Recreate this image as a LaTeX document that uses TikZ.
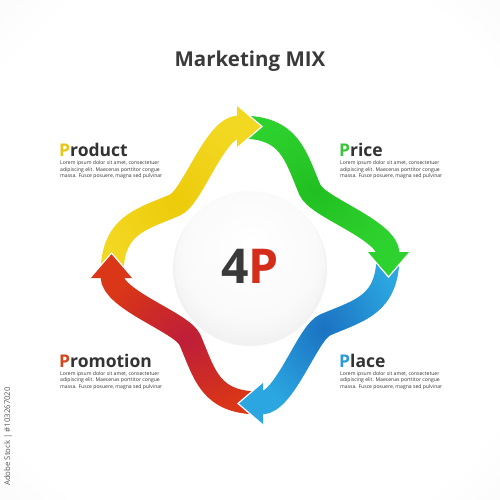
\documentclass[tikz,border=0pt]{standalone}
\usepackage{fontspec}
\setmainfont{Open Sans}
\usetikzlibrary{fadings}
\definecolor{cYel}{HTML}{F3D822}
\definecolor{cYelD}{HTML}{EDCB0A}
\definecolor{cGrn}{HTML}{2ED22E}
\definecolor{cGrnD}{HTML}{22C022}
\definecolor{cBlu}{HTML}{2BA6E0}
\definecolor{cBluD}{HTML}{1C72C2}
\definecolor{cRed}{HTML}{DA3618}
\definecolor{cRedD}{HTML}{BE1E3A}
\definecolor{tYel}{HTML}{E8C614}
\definecolor{tGrn}{HTML}{3CC43C}
\definecolor{tBlu}{HTML}{2B9BD8}
\definecolor{tRed}{HTML}{D4461C}
\definecolor{txt}{HTML}{333333}
\definecolor{four}{HTML}{3A3A3A}
\definecolor{pRed}{HTML}{D42E1A}
\pgfdeclareradialshading{bgshade}{\pgfpoint{0bp}{0bp}}{color(0bp)=(white); color(30bp)=(white); color(72bp)=(black!11)}
\pgfdeclareradialshading{sph}{\pgfpoint{0bp}{8bp}}{color(0bp)=(white); color(22bp)=(white!98!black); color(50bp)=(black!14)}
\tikzfading[name=midfade, inner color=transparent!0, outer color=transparent!100]
\tikzset{
  heading/.style={font=\fontsize{17.5}{20}\selectfont\bfseries, text=txt, inner sep=0, anchor=base west},
  lorem/.style={font=\fontsize{5.1}{6.6}\selectfont, text=txt, inner sep=0, align=left, anchor=north west},
  band/.style={line width=23},
  headedge/.style={white, line width=1.2, line join=miter}
}
\begin{document}
\begin{tikzpicture}[x=1pt,y=-1pt]
\shade[shading=bgshade] (0,0) rectangle (500,500);
\useasboundingbox (0,0) rectangle (500,500);
% title
\node[font=\fontsize{20.5}{24}\selectfont\bfseries, text=four, anchor=base, inner sep=0] (title) at (250,67) {Marketing MIX};
% central circle
\fill[black!5] (250,269) circle (77);
\shade[shading=sph] (250,266) circle (75);
\node[font=\fontsize{48}{50}\selectfont\bfseries, anchor=base, inner sep=0] (fourp) at (250,283) {\textcolor{four}{4}\textcolor{pRed}{P}};
% bands
\foreach \ang/\col/\dk in {0/cYel/cYelD,-90/cGrn/cGrnD,180/cBlu/cBluD,90/cRed/cRedD}{
  \begin{scope}[shift={(250,265)}, rotate=\ang]
    \draw[band, \col] (-138,10) .. controls (-138,-40) and (-110,-45) .. (-75,-60)
      .. controls (-57.5,-67.5) and (-35,-138) .. (-11,-138);
    \draw[band, \dk, path fading=midfade] (-138,10) .. controls (-138,-40) and (-110,-45) .. (-75,-60)
      .. controls (-57.5,-67.5) and (-35,-138) .. (-11,-138);
  \end{scope}
}
% heads
\foreach \ang/\col in {0/cYel,-90/cGrn,180/cBlu,90/cRed}{
  \begin{scope}[shift={(250,265)}, rotate=\ang]
    \fill[\col] (-13,-160) -- (12,-138.5) -- (-13,-117) -- cycle;
    \draw[headedge] (-13,-160) -- (12,-138.5) -- (-13,-117);
  \end{scope}
}
% labels
\node[heading] (product) at (59,156) {\textcolor{tYel}{P}roduct};
\node[lorem] (productT) at (60,160.5) {Lorem ipsum dolor sit amet, consectetuer\\adipiscing elit. Maecenas porttitor congue\\massa. Fusce posuere, magna sed pulvinar};
\node[heading] (price) at (339,156) {\textcolor{tGrn}{P}rice};
\node[lorem] (priceT) at (340,160.5) {Lorem ipsum dolor sit amet, consectetuer\\adipiscing elit. Maecenas porttitor congue\\massa. Fusce posuere, magna sed pulvinar};
\node[heading] (promotion) at (59,367) {\textcolor{tRed}{P}romotion};
\node[lorem] (promotionT) at (60,371) {Lorem ipsum dolor sit amet, consectetuer\\adipiscing elit. Maecenas porttitor congue\\massa. Fusce posuere, magna sed pulvinar};
\node[heading] (place) at (339,367) {\textcolor{tBlu}{P}lace};
\node[lorem] (placeT) at (340,371) {Lorem ipsum dolor sit amet, consectetuer\\adipiscing elit. Maecenas porttitor congue\\massa. Fusce posuere, magna sed pulvinar};
% side credit
\node[rotate=90, anchor=west, font=\fontsize{7.8}{8}\selectfont, text=black!65, inner sep=0] (credit) at (8,486) {Adobe Stock | \#103267020};
\end{tikzpicture}
\end{document}
